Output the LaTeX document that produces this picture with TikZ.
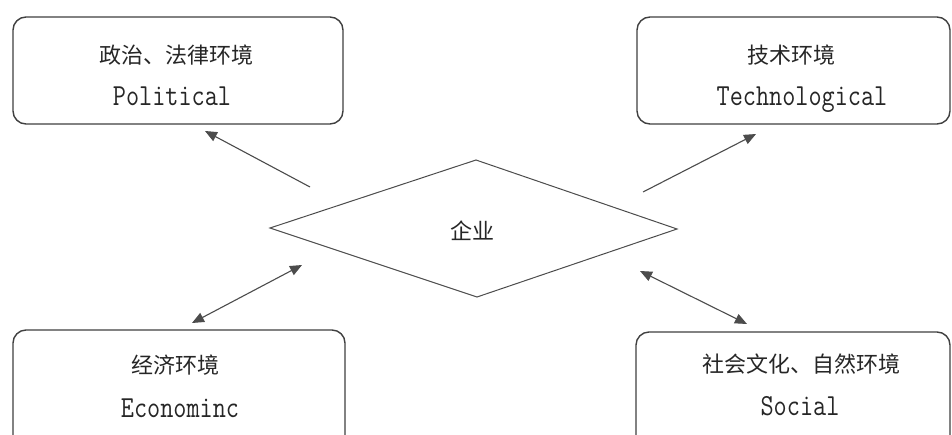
\documentclass[tikz,border=0pt]{standalone}
\usepackage{fontspec}
\usetikzlibrary{arrows.meta}
\newfontfamily\cjk{Noto Sans CJK SC}
\begin{document}
\begin{tikzpicture}[x=1pt,y=-1pt,
  envbox/.style={draw=black!75, line width=1.4pt, rounded corners=13pt, inner sep=0pt},
  zh/.style={font=\cjk\fontsize{22}{24}\selectfont, text=black!85, inner sep=0pt},
  en/.style={font=\ttfamily\fontsize{25.5}{28}\selectfont, text=black!85, inner sep=0pt, anchor=base},
  link/.style={draw=black!70, line width=1.1pt},
  tip/.style={-{Triangle[length=12pt,width=10pt]}},
  tips/.style={{Triangle[length=12pt,width=10pt]}-{Triangle[length=12pt,width=10pt]}}]
\useasboundingbox (0,0) rectangle (952,434);
\fill[white] (0,0) rectangle (952,434);
% boxes
\draw[envbox] (13,17) rectangle (343,124);
\node (pbox) at (178,70) {};
\draw[envbox] (637,17) rectangle (950,124);
\node (tbox) at (793,70) {};
\draw[envbox] (13,330) rectangle (345,448);
\node (ebox) at (179,389) {};
\draw[envbox] (636,332) rectangle (950,448);
\node (sbox) at (793,390) {};
% texts
\node[zh] (pzh) at (176,55) {政治、法律环境};
\node[en] (pen) at (172,105) {\scalebox{1}[1.2]{Political}};
\node[zh] (tzh) at (791,55) {技术环境};
\node[en] (ten) at (802,105) {\scalebox{1}[1.2]{Technological}};
\node[zh] (ezh) at (175,365) {经济环境};
\node[en] (een) at (180,417) {\scalebox{1}[1.2]{Econominc}};
\node[zh] (szh) at (801,364) {社会文化、自然环境};
\node[en] (sen) at (800,415) {\scalebox{1}[1.2]{Social}};
% diamond
\coordinate (dl) at (270,228);
\coordinate (dt) at (476,160);
\coordinate (dr) at (677,229);
\coordinate (db) at (477,297);
\draw[draw=black!70, line width=1pt] (dl) -- (dt) -- (dr) -- (db) -- cycle;
\node[zh] (firm) at (472,231) {企业};
% arrow ends
\coordinate (a1s) at (310,187);
\coordinate (a1e) at (205,131);
\coordinate (a2s) at (643,192);
\coordinate (a2e) at (756,134);
\coordinate (a3s) at (192,323);
\coordinate (a3e) at (302,265);
\coordinate (a4s) at (640,271);
\coordinate (a4e) at (747,324);
\draw[link,tip] (a1s) -- (a1e);
\draw[link,tip] (a2s) -- (a2e);
\draw[link,tips] (a3s) -- (a3e);
\draw[link,tips] (a4s) -- (a4e);
\end{tikzpicture}
\end{document}
